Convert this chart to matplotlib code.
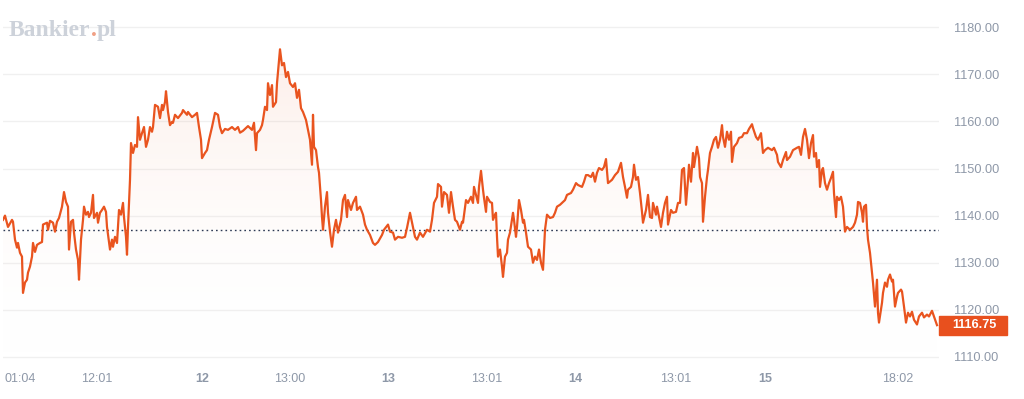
import numpy as np
import matplotlib
matplotlib.use("Agg")
import matplotlib.pyplot as plt
from matplotlib.patches import Rectangle
from matplotlib.colors import LinearSegmentedColormap

# sample positions (chart time axis) and prices
t = [3, 5, 8, 12, 13, 15, 17, 18, 20, 22, 23, 25, 27, 28, 30, 32, 33, 35, 37, 40,
     42, 43, 47, 48, 50, 53, 55, 57, 59, 62, 64, 66, 68, 69, 71, 73, 74, 76, 78, 79,
     81, 83, 84, 86, 88, 89, 91, 93, 94, 97, 98, 100, 102, 104, 106, 107, 110, 112, 113, 115,
     117, 119, 121, 123, 124, 126, 127, 128, 130, 131, 133, 135, 137, 138, 140, 142, 144, 146, 148, 150,
     152, 153, 155, 158, 160, 162, 163, 165, 166, 168, 170, 172, 173, 175, 178, 182, 183, 187, 188, 192,
     195, 197, 199, 201, 202, 205, 207, 209, 212, 215, 218, 220, 222, 225, 228, 232, 235, 238, 240, 243,
     248, 252, 254, 256, 257, 260, 262, 263, 265, 267, 268, 270, 272, 273, 276, 277, 280, 282, 284, 286,
     288, 290, 293, 295, 297, 299, 301, 303, 306, 308, 310, 312, 313, 314, 316, 318, 319, 321, 322, 323,
     325, 327, 328, 330, 332, 334, 336, 338, 341, 343, 345, 347, 348, 351, 353, 356, 357, 360, 363, 365,
     367, 370, 373, 375, 378, 382, 384, 388, 390, 393, 395, 398, 402, 405, 407, 410, 413, 415, 417, 420,
     423, 427, 430, 432, 434, 437, 438, 441, 442, 444, 447, 449, 451, 453, 455, 457, 460, 462, 463, 466,
     468, 471, 473, 474, 476, 478, 479, 481, 483, 484, 486, 487, 490, 492, 493, 495, 496, 497, 498, 500,
     502, 503, 505, 507, 508, 510, 513, 514, 516, 517, 519, 521, 523, 524, 526, 528, 531, 533, 535, 537,
     539, 541, 543, 545, 547, 550, 553, 555, 557, 560, 563, 565, 567, 571, 573, 576, 578, 582, 584, 586,
     588, 591, 593, 595, 597, 599, 602, 604, 606, 608, 612, 615, 618, 621, 623, 625, 627, 628, 631, 633,
     634, 636, 638, 640, 642, 643, 646, 648, 650, 652, 653, 656, 657, 659, 661, 663, 665, 667, 668, 671,
     673, 676, 678, 680, 682, 684, 686, 688, 689, 691, 693, 694, 697, 699, 700, 702, 703, 705, 707, 708,
     710, 712, 714, 716, 718, 720, 722, 723, 725, 727, 729, 731, 732, 734, 737, 739, 742, 744, 747, 749,
     752, 753, 756, 758, 761, 763, 765, 768, 772, 774, 777, 778, 781, 783, 786, 787, 790, 793, 797, 799,
     801, 803, 805, 807, 809, 811, 813, 814, 816, 817, 819, 820, 822, 823, 825, 827, 829, 831, 833, 834,
     836, 837, 839, 841, 843, 844, 845, 847, 850, 853, 855, 857, 858, 860, 862, 863, 864, 866, 867, 868,
     870, 872, 873, 875, 877, 878, 879, 882, 883, 885, 887, 888, 890, 892, 893, 895, 897, 898, 901, 902,
     904, 906, 908, 910, 912, 914, 917, 919, 922, 924, 927, 929, 932, 934, 937]
price = [1139.1, 1140.0, 1137.6, 1139.1, 1138.7, 1134.9, 1133.2, 1134.2, 1132.1, 1131.3,
         1123.6, 1125.8, 1126.4, 1127.9, 1129.2, 1131.3, 1134.2, 1132.3, 1133.8, 1134.2,
         1134.4, 1138.1, 1138.5, 1137.0, 1138.9, 1138.5, 1136.6, 1138.7, 1139.5, 1141.9,
         1145.0, 1142.9, 1141.9, 1132.8, 1138.7, 1139.1, 1136.4, 1132.8, 1130.6, 1126.4,
         1134.9, 1139.1, 1141.9, 1140.2, 1140.8, 1139.7, 1140.6, 1144.4, 1139.5, 1140.6,
         1138.5, 1140.6, 1141.2, 1141.9, 1140.8, 1137.6, 1132.8, 1134.9, 1133.4, 1135.5,
         1134.2, 1141.2, 1140.2, 1142.7, 1139.7, 1135.5, 1131.7, 1137.6, 1147.6, 1155.4,
         1153.3, 1155.0, 1154.6, 1160.9, 1156.1, 1157.5, 1158.8, 1154.6, 1156.1, 1158.8,
         1157.8, 1158.8, 1163.5, 1163.1, 1160.7, 1163.5, 1162.4, 1164.1, 1166.4, 1162.0,
         1159.2, 1159.9, 1159.7, 1161.4, 1160.7, 1161.8, 1162.4, 1161.4, 1162.0, 1160.9,
         1161.4, 1161.8, 1158.8, 1156.1, 1152.2, 1153.3, 1153.9, 1156.1, 1158.8, 1161.8,
         1161.4, 1158.8, 1157.5, 1158.4, 1158.2, 1158.8, 1158.2, 1158.8, 1157.6, 1158.0,
         1159.0, 1158.2, 1159.7, 1153.9, 1157.5, 1158.2, 1159.2, 1160.3, 1163.1, 1162.4,
         1168.1, 1165.6, 1167.7, 1163.1, 1164.1, 1168.1, 1175.3, 1171.9, 1172.4, 1169.4,
         1170.5, 1168.1, 1167.3, 1168.1, 1165.0, 1166.7, 1162.8, 1162.0, 1160.3, 1158.2,
         1156.1, 1150.8, 1161.4, 1154.6, 1153.9, 1150.3, 1149.1, 1143.3, 1139.7, 1137.0,
         1141.9, 1145.0, 1140.6, 1136.6, 1133.4, 1137.0, 1139.1, 1136.4, 1139.1, 1143.3,
         1144.4, 1139.7, 1143.3, 1141.2, 1142.7, 1144.0, 1141.2, 1141.9, 1140.2, 1138.1,
         1137.0, 1135.9, 1134.2, 1133.8, 1134.4, 1135.9, 1137.0, 1138.1, 1136.6, 1136.4,
         1134.9, 1135.5, 1135.3, 1135.5, 1137.4, 1140.6, 1137.6, 1135.5, 1134.9, 1136.4,
         1135.5, 1137.0, 1136.6, 1139.1, 1142.7, 1144.0, 1146.7, 1146.1, 1141.9, 1145.0,
         1144.4, 1140.6, 1145.0, 1141.9, 1139.1, 1138.7, 1137.0, 1138.7, 1138.5, 1143.3,
         1142.7, 1144.0, 1142.7, 1146.1, 1144.4, 1142.7, 1146.1, 1149.5, 1145.5, 1143.8,
         1140.8, 1144.0, 1142.9, 1142.7, 1139.1, 1140.2, 1140.6, 1135.5, 1131.3, 1132.8,
         1129.2, 1127.0, 1131.3, 1132.1, 1134.9, 1136.4, 1140.6, 1139.1, 1135.5, 1137.6,
         1143.3, 1141.2, 1138.5, 1139.1, 1136.4, 1133.4, 1132.8, 1130.0, 1131.3, 1130.6,
         1132.8, 1130.0, 1128.5, 1137.0, 1140.2, 1139.5, 1139.7, 1140.6, 1141.9, 1142.3,
         1142.9, 1143.3, 1144.4, 1144.8, 1145.5, 1146.9, 1146.5, 1146.1, 1147.2, 1148.6,
         1148.6, 1148.2, 1149.1, 1147.2, 1149.1, 1150.1, 1149.7, 1150.3, 1152.0, 1146.9,
         1147.6, 1148.6, 1149.3, 1151.2, 1148.2, 1146.1, 1143.8, 1145.5, 1146.1, 1148.2,
         1150.8, 1147.6, 1148.2, 1144.8, 1140.8, 1138.5, 1141.2, 1144.4, 1139.7, 1139.5,
         1142.7, 1140.2, 1141.9, 1139.7, 1137.6, 1140.6, 1142.7, 1144.0, 1138.1, 1141.2,
         1140.6, 1140.8, 1142.7, 1142.7, 1149.7, 1150.1, 1142.3, 1147.6, 1150.8, 1147.2,
         1153.3, 1150.3, 1154.6, 1152.2, 1148.2, 1146.9, 1138.7, 1144.0, 1148.2, 1149.7,
         1153.3, 1154.6, 1156.1, 1156.7, 1154.4, 1156.1, 1159.2, 1156.7, 1154.6, 1157.8,
         1156.1, 1157.8, 1151.4, 1154.6, 1155.4, 1156.5, 1156.7, 1157.5, 1157.5, 1158.4,
         1159.4, 1158.6, 1156.7, 1156.1, 1157.5, 1153.3, 1153.9, 1154.4, 1153.9, 1154.4,
         1152.9, 1151.4, 1150.3, 1151.8, 1153.5, 1151.8, 1152.5, 1153.9, 1154.4, 1154.6,
         1152.9, 1156.7, 1158.4, 1156.1, 1152.2, 1155.4, 1157.1, 1152.5, 1153.3, 1150.3,
         1151.8, 1146.1, 1149.7, 1150.1, 1146.9, 1145.5, 1146.9, 1148.0, 1149.3, 1144.8,
         1139.7, 1144.0, 1143.3, 1144.0, 1141.9, 1139.1, 1136.6, 1137.6, 1137.0, 1137.6,
         1138.5, 1140.2, 1142.9, 1142.7, 1140.6, 1138.7, 1141.9, 1142.3, 1137.6, 1134.9,
         1132.1, 1127.9, 1125.8, 1120.7, 1126.4, 1119.4, 1117.3, 1121.5, 1123.6, 1125.8,
         1124.9, 1126.4, 1127.5, 1126.0, 1126.4, 1120.7, 1122.8, 1123.6, 1124.3, 1123.9,
         1120.7, 1117.3, 1119.4, 1118.6, 1119.6, 1117.9, 1116.9, 1118.6, 1119.4, 1118.4,
         1119.0, 1118.6, 1119.8, 1118.6, 1116.75]

ref_price = 1137.0
last_price = 1116.75
y_ticks = [1110, 1120, 1130, 1140, 1150, 1160, 1170, 1180]
x_tick_pos = [20, 97, 202, 290, 388, 487, 575, 676, 765, 898]
x_tick_labels = ['01:04', '12:01', '12', '13:00', '13', '13:01', '14', '13:01', '15', '18:02']

line_color = '#e9541f'
text_gray = '#8e98a8'

fig = plt.figure(figsize=(10.24, 3.99), dpi=100)
ax = fig.add_axes([3 / 1024, 34 / 399, 936 / 1024, 360 / 399])
ax.set_xlim(3, 939)
ax.set_ylim(1108.3, 1184.7)

# gradient fill under the line
fill = ax.fill_between(t, price, 1108.3, color='none', lw=0)
cmap = LinearSegmentedColormap.from_list('fade', [(1, 1, 1, 0), (0.91, 0.33, 0.12, 0.10)])
grad = ax.imshow(np.linspace(0, 1, 200).reshape(-1, 1), cmap=cmap, aspect='auto',
                 extent=[3, 939, 1108.3, 1175.5], origin='lower', zorder=1)
grad.set_clip_path(fill.get_paths()[0], transform=ax.transData)

for v in y_ticks:
    ax.axhline(v, color='#f0f0f0', lw=1, zorder=0)

ax.plot(t, price, color=line_color, lw=1.6, zorder=3)
ax.axhline(ref_price, color='#2d3a55', lw=1, ls=(0, (1.2, 2.2)), zorder=2)

for s in ax.spines.values():
    s.set_visible(False)

ax.yaxis.tick_right()
ax.set_yticks(y_ticks)
ax.set_yticklabels([f'{v:.2f}' for v in y_ticks])
ax.tick_params(axis='y', length=0, pad=11, labelsize=9.2, labelcolor=text_gray)
ax.set_xticks(x_tick_pos)
ax.set_xticklabels(x_tick_labels)
ax.tick_params(axis='x', length=0, pad=6, labelsize=9, labelcolor=text_gray)
for lab in ax.get_xticklabels() + ax.get_yticklabels():
    lab.set_fontfamily('Liberation Sans')
for lab in ax.get_xticklabels():
    if ':' not in lab.get_text():
        lab.set_fontweight('bold')

# last price marker
trans = ax.get_yaxis_transform()
ax.add_patch(Rectangle((1.0, last_price - 2.0), 68 / 936, 4.0, transform=trans,
                       color='#e8501e', clip_on=False, zorder=5))
ax.text(1.0 + 35 / 936, last_price, f'{last_price:.2f}', transform=trans, ha='center',
        va='center', color='white', fontsize=9.2, fontweight='bold',
        family='Liberation Sans', zorder=6)

# watermark, placed piece by piece on a common baseline
renderer = fig.canvas.get_renderer()
x_px = 9
base_y = 1 - 36 / 399
for part, col in [('Bankier', '#cdd2da'), ('.', '#f0a085'), ('pl', '#cdd2da')]:
    txt = fig.text(x_px / 1024, base_y, part, color=col, fontsize=17, fontweight='bold',
                   family='Liberation Serif', va='baseline', ha='left')
    x_px += txt.get_window_extent(renderer).width

plt.savefig('out.png', dpi=100, facecolor='white')
